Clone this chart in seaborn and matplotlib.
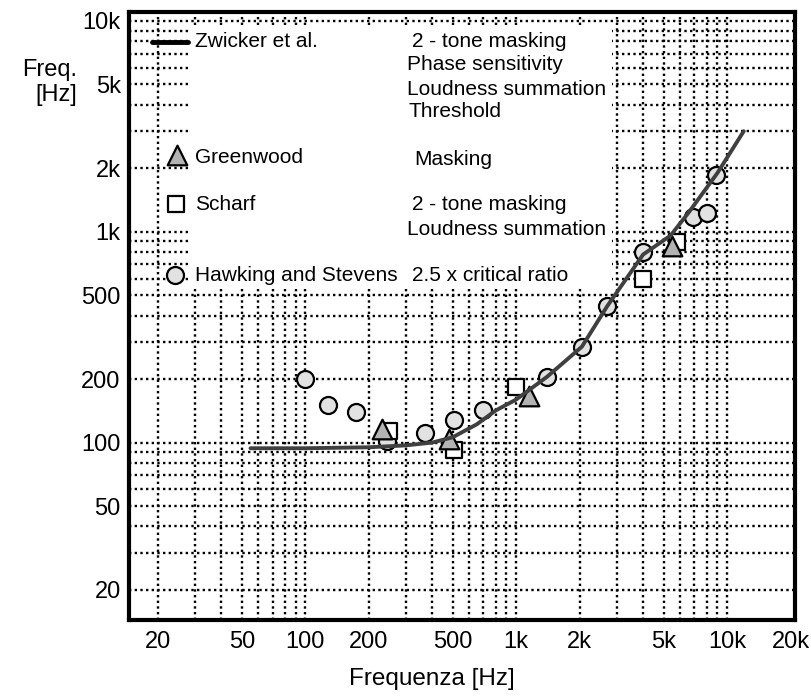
import matplotlib
matplotlib.use("Agg")
import matplotlib.pyplot as plt
from matplotlib.patches import Rectangle
from matplotlib.ticker import FixedLocator, NullFormatter
import seaborn as sns

# Zwicker et al. curve
zwicker_freq = [55, 100, 200, 300, 400, 500, 650, 800, 1000, 1400, 2050, 2700, 4000, 5400, 6600, 9000, 12000]
zwicker_bw = [94, 94, 95, 97, 100, 106, 122, 142, 160, 205, 285, 443, 780, 960, 1240, 1900, 3000]

# Greenwood (triangles)
greenwood_freq = [230, 480, 1150, 5500]
greenwood_bw = [116, 104, 167, 860]

# Scharf (squares)
scharf_freq = [250, 505, 1000, 4000, 5800]
scharf_bw = [114, 92, 184, 600, 890]

# Hawking and Stevens (circles)
hs_freq = [100, 128, 175, 245, 370, 510, 700, 1400, 2050, 2700, 4000, 6900, 8000, 8900]
hs_bw = [200, 151, 139, 102, 111, 128, 142, 205, 285, 445, 800, 1170, 1230, 1860]

x_ticks = [20, 50, 100, 200, 500, 1000, 2000, 5000, 10000, 20000]
x_labels = ["20", "50", "100", "200", "500", "1k", "2k", "5k", "10k", "20k"]
y_ticks = [20, 50, 100, 200, 500, 1000, 2000, 5000, 10000]
y_labels = ["20", "50", "100", "200", "500", "1k", "2k", "5k", "10k"]
grid_vals = [20, 30, 40, 50, 60, 70, 80, 90,
             100, 200, 300, 400, 500, 600, 700, 800, 900,
             1000, 2000, 3000, 4000, 5000, 6000, 7000, 8000, 9000, 10000]

sns.set_style("white")
plt.rcParams["font.family"] = ["Liberation Sans", "DejaVu Sans"]
plt.rcParams["text.color"] = "black"
plt.rcParams["axes.labelcolor"] = "black"
plt.rcParams["xtick.color"] = "black"
plt.rcParams["ytick.color"] = "black"

fig = plt.figure(figsize=(8.12, 6.97), dpi=100)
ax = fig.add_axes([129 / 812, 77 / 697, 666 / 812, 608 / 697])
ax.set_xscale("log")
ax.set_yscale("log")

edge = dict(edgecolor="black", linewidth=1.6)
sns.scatterplot(x=hs_freq, y=hs_bw, marker="o", s=150, color="#e2e2e2", zorder=3, ax=ax, **edge)
sns.scatterplot(x=scharf_freq, y=scharf_bw, marker="s", s=120, color="white", zorder=3, ax=ax, **edge)
sns.scatterplot(x=greenwood_freq, y=greenwood_bw, marker="^", s=200, color="#b3b3b3", zorder=3, ax=ax, **edge)
sns.lineplot(x=zwicker_freq, y=zwicker_bw, color="#404040", linewidth=2.8, estimator=None, zorder=5, ax=ax)

ax.set_xlim(14.6, 21000)
ax.set_ylim(14.4, 11030)

# ticks: labels on majors, dotted grid on majors + minors
ax.xaxis.set_major_locator(FixedLocator(x_ticks))
ax.set_xticklabels(x_labels)
ax.yaxis.set_major_locator(FixedLocator(y_ticks))
ax.set_yticklabels(y_labels)
ax.xaxis.set_minor_locator(FixedLocator(grid_vals))
ax.yaxis.set_minor_locator(FixedLocator(grid_vals))
ax.xaxis.set_minor_formatter(NullFormatter())
ax.yaxis.set_minor_formatter(NullFormatter())
ax.grid(True, which="both", color="black", linestyle=(0, (1, 1.4)), linewidth=1.7)
ax.set_axisbelow(True)
for t in ax.xaxis.get_major_ticks():
    if t.get_loc() not in grid_vals:
        t.gridline.set_visible(False)
ax.tick_params(which="both", length=0)
ax.tick_params(axis="x", labelsize=17, pad=8)
ax.tick_params(axis="y", labelsize=17, pad=6)

for sp in ax.spines.values():
    sp.set_color("black")
    sp.set_linewidth(3)

ax.set_xlabel("Frequenza [Hz]", fontsize=17.5)
ax.xaxis.set_label_coords(0.455, -0.079)
ax.set_ylabel("Freq.\n[Hz]", fontsize=17, rotation=0, ha="right", va="center",
              multialignment="right")
ax.yaxis.set_label_coords(-0.078, 0.884)

# white legend panel covering the grid
ax.add_patch(Rectangle((0.09, 0.546), 0.635, 0.428, transform=ax.transAxes,
                       facecolor="white", edgecolor="none", zorder=1))

# legend keys
ax.plot([0.034, 0.089], [0.951, 0.951], transform=ax.transAxes, color="black", lw=3.5, zorder=4)
ax.scatter([0.072], [0.765], transform=ax.transAxes, marker="^", s=200, color="#b3b3b3", zorder=4, **edge)
ax.scatter([0.071], [0.684], transform=ax.transAxes, marker="s", s=120, color="white", zorder=4, **edge)
ax.scatter([0.069], [0.567], transform=ax.transAxes, marker="o", s=150, color="#e2e2e2", zorder=4, **edge)

names = [("Zwicker et al.", 0.951), ("Greenwood", 0.760), ("Scharf", 0.683), ("Hawking and Stevens", 0.566)]
for txt, yy in names:
    ax.text(0.099, yy, txt, transform=ax.transAxes, fontsize=15, va="center", ha="left", zorder=4)

notes = [("2 - tone masking", 0.425, 0.951), ("Phase sensitivity", 0.417, 0.913),
         ("Loudness summation", 0.417, 0.873), ("Threshold", 0.419, 0.837),
         ("Masking", 0.428, 0.758), ("2 - tone masking", 0.425, 0.683),
         ("Loudness summation", 0.417, 0.643), ("2.5 x critical ratio", 0.425, 0.566)]
for txt, xx, yy in notes:
    ax.text(xx, yy, txt, transform=ax.transAxes, fontsize=15, va="center", ha="left", zorder=4)

fig.savefig("out.png", dpi=100)
